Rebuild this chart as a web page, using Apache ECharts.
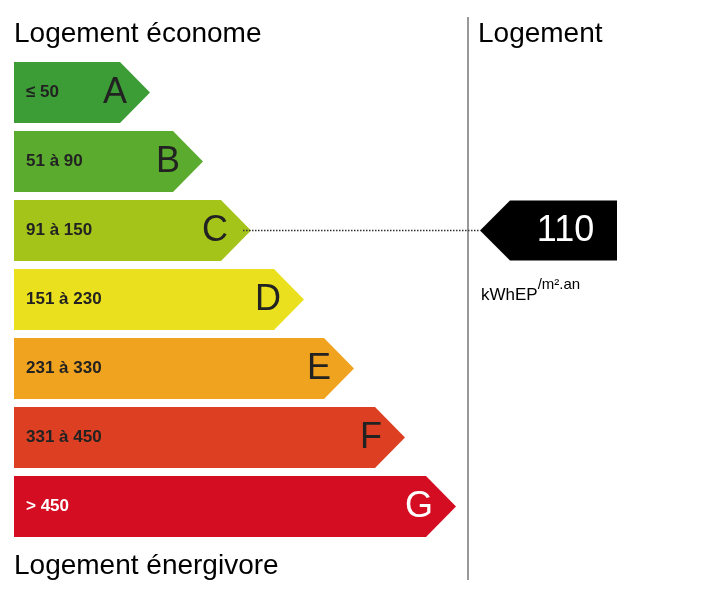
<!DOCTYPE html><html><head><meta charset="utf-8">
<script src="https://cdn.jsdelivr.net/npm/echarts@6/dist/echarts.min.js"></script>
<style>html,body{margin:0;padding:0;background:#fff}#c{width:712px;height:605px}</style></head><body><div id="c"></div>
<script>
const classes=['A','B','C','D','E','F','G'];
const ranges=['≤ 50','51 à 90','91 à 150','151 à 230','231 à 330','331 à 450','> 450'];
const barLengths=[136,189,237,290,340,391,442];
const colors=['#3c9c35','#5bab2e','#a5c41a','#ebe01e','#f0a31f','#dc3f22','#d40d23'];
const textColors=['#222','#222','#222','#222','#222','#222','#fff'];
const value=110, valueClass='C', unit='kWh';
const chart=echarts.init(document.getElementById('c'));
const F='Liberation Sans, Arial, sans-serif';
chart.setOption({animation:false,
grid:{left:14,right:0,top:58,height:483},
xAxis:{type:'value',min:0,max:698,show:false},
yAxis:{type:'category',data:classes,inverse:true,show:false},
series:[{type:'custom',data:barLengths.map((v,i)=>[v,i]),
renderItem:(p,api)=>{const i=api.value(1);const x0=api.coord([0,i]),x1=api.coord([api.value(0),i]);
const h=61,y=x0[1]-h/2,tip=x1[0],a=30;
return {type:'group',children:[
{type:'polygon',shape:{points:[[x0[0],y],[tip-a,y],[tip,y+h/2],[tip-a,y+h],[x0[0],y+h]]},style:{fill:colors[i]}},
{type:'text',style:{x:x0[0]+12,y:y+h/2,text:ranges[i],font:'bold 17px '+F,fill:textColors[i],verticalAlign:'middle'}},
{type:'text',style:{x:tip-23,y:y+h/2+1,text:classes[i],font:'36px '+F,fill:textColors[i],align:'right',verticalAlign:'middle'}}]};}},
{type:'custom',data:[[466,classes.indexOf(valueClass),value]],
renderItem:(p,api)=>{const c=api.coord([api.value(0),api.value(1)]);const x=c[0],y=c[1]-30,h=60,bx=x+30,ex=api.coord([603,0])[0];
const lineStart=api.coord([barLengths[api.value(1)],0])[0]+(-8);
return {type:'group',children:[
{type:'line',shape:{x1:lineStart,y1:c[1],x2:x,y2:c[1]},style:{stroke:'#333',lineWidth:1.5,lineDash:[1.5,1.5]}},
{type:'polygon',shape:{points:[[x,c[1]],[bx,y],[ex,y],[ex,y+h],[bx,y+h]]},style:{fill:'#000'}},
{type:'text',style:{x:(bx+ex)/2+2,y:c[1]+1,text:String(api.value(2)),font:'36px '+F,fill:'#fff',align:'center',verticalAlign:'middle'}},
{type:'text',style:{x:x+1,y:y+h+12,text:'{a|'+unit+'}{b|EP}{c|/m².an}',fill:'#000',rich:{a:{font:'17px '+F,verticalAlign:'bottom'},b:{font:'17px '+F,padding:[14,0,0,0]},c:{font:'15px '+F,padding:[0,0,6,0]}}}}]};}}],
graphic:[
{type:'text',left:14,top:20,style:{text:'Logement économe',font:'28px '+F,fill:'#000'}},
{type:'text',left:14,top:552,style:{text:'Logement énergivore',font:'28px '+F,fill:'#000'}},
{type:'text',left:478,top:20,style:{text:'Logement',font:'28px '+F,fill:'#000'}},
{type:'line',shape:{x1:468,y1:17,x2:468,y2:580},style:{stroke:'#777',lineWidth:1.5}}]});
</script></body></html>
